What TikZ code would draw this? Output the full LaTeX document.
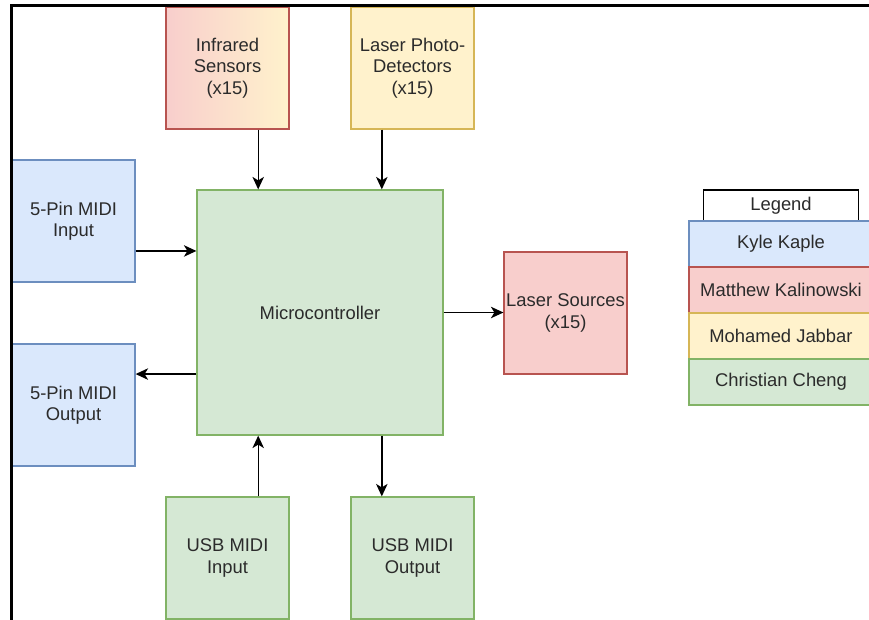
\documentclass[tikz,border=0pt]{standalone}
\usepackage{fontspec}
\setmainfont{Liberation Sans}
\usetikzlibrary{arrows.meta,calc}

\definecolor{blueF}{HTML}{DAE8FC}
\definecolor{blueS}{HTML}{6C8EBF}
\definecolor{redF}{HTML}{F8CECC}
\definecolor{redS}{HTML}{B85450}
\definecolor{yellowF}{HTML}{FFF2CC}
\definecolor{yellowS}{HTML}{D6B656}
\definecolor{greenF}{HTML}{D5E8D4}
\definecolor{greenS}{HTML}{82B366}
\definecolor{labelgray}{HTML}{2B2B2B}

\tikzset{
  block/.style={draw, line width=1.2pt, minimum width=123pt, minimum height=122pt,
    inner sep=0pt, align=center, text=labelgray,
    font=\fontsize{18.4}{21.5}\selectfont},
  bluebox/.style={block, fill=blueF, draw=blueS},
  redbox/.style={block, fill=redF, draw=redS},
  yellowbox/.style={block, fill=yellowF, draw=yellowS},
  greenbox/.style={block, fill=greenF, draw=greenS},
  keyrow/.style={draw, line width=1.2pt, minimum width=184pt, minimum height=46pt,
    inner sep=0pt, text=labelgray, font=\fontsize{18.4}{21.5}\selectfont},
  link/.style={draw=black, line width=1.4pt,
    -{Stealth[length=12.5pt, width=11.5pt, inset=3.5pt]}},
}

\begin{document}
\begin{tikzpicture}[x=1pt, y=-1pt]
  \useasboundingbox (0,0) rectangle (869,619);
  \clip (0,0) rectangle (869,619);
  \fill[white] (0,0) rectangle (869,619);

  % central controller
  \node[greenbox, minimum width=246pt, minimum height=245pt] (mcu) at (320,312.5) {Microcontroller};

  % sensing and I/O blocks
  \node[block, draw=redS, left color=redF, right color=yellowF] (infra) at (227.5,68) {Infrared\\Sensors\\(x15)};
  \node[yellowbox] (photo) at (412.5,68) {Laser Photo-\\Detectors\\(x15)};
  \node[bluebox] (midiin) at (73.5,221) {5-Pin MIDI\\Input};
  \node[bluebox] (midiout) at (73.5,405) {5-Pin MIDI\\Output};
  \node[redbox] (laser) at (565.5,313) {Laser Sources\\(x15)};
  \node[greenbox] (usbin) at (227.5,558) {USB MIDI\\Input};
  \node[greenbox] (usbout) at (412.5,558) {USB MIDI\\Output};

  % attachment points on the controller
  \coordinate (mcuN1) at ($(mcu.north west)!0.25!(mcu.north east)$);
  \coordinate (mcuN2) at ($(mcu.north west)!0.75!(mcu.north east)$);
  \coordinate (mcuS1) at ($(mcu.south west)!0.25!(mcu.south east)$);
  \coordinate (mcuS2) at ($(mcu.south west)!0.75!(mcu.south east)$);
  \coordinate (mcuW1) at ($(mcu.north west)!0.25!(mcu.south west)$);
  \coordinate (mcuW2) at ($(mcu.north west)!0.75!(mcu.south west)$);
  \coordinate (mcuE) at (mcu.east);

  % signal flow
  \draw[link] (infra.south -| mcuN1) -- (mcuN1);
  \draw[link] (photo.south -| mcuN2) -- (mcuN2);
  \draw[link] (midiin.east |- mcuW1) -- (mcuW1);
  \draw[link] (mcuW2) -- (midiout.east |- mcuW2);
  \draw[link] (mcuE) -- (laser.west |- mcuE);
  \draw[link] (usbin.north -| mcuS1) -- (mcuS1);
  \draw[link] (mcuS2) -- (usbout.north -| mcuS2);

  % legend
  \node[keyrow, fill=white, draw=black, minimum width=155pt, minimum height=31pt] (legend) at (781,205.5) {Legend};
  \node[keyrow, fill=blueF, draw=blueS] (kyle) at (781,244) {Kyle Kaple};
  \node[keyrow, fill=redF, draw=redS] (matt) at (781,290) {Matthew Kalinowski};
  \node[keyrow, fill=yellowF, draw=yellowS] (moha) at (781,336) {Mohamed Jabbar};
  \node[keyrow, fill=greenF, draw=greenS] (chris) at (781,382) {Christian Cheng};

  % page frame
  \draw[line width=3pt, line cap=rect] (11,619) -- (11,5) -- (869,5);
\end{tikzpicture}
\end{document}
